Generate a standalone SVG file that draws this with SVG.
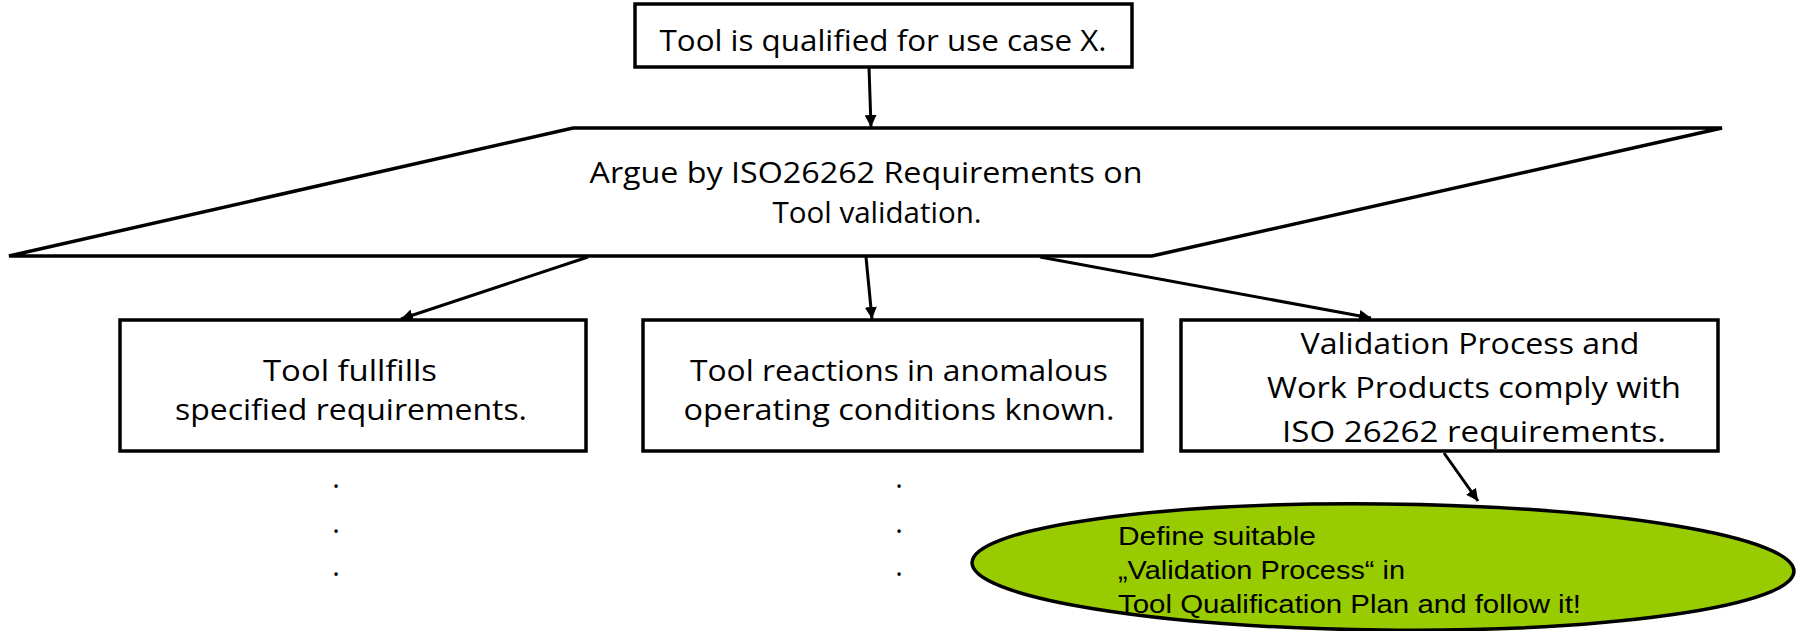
<svg xmlns="http://www.w3.org/2000/svg" width="1796" height="631" viewBox="0 0 1796 631">
  <style>
    .box { fill: #ffffff; stroke: #000000; stroke-width: 3.5; }
    .lbl { font-family: "Open Sans", "Noto Sans", "Liberation Sans", sans-serif; font-size: 30px; fill: #000000; text-anchor: middle; }
    .note { font-family: "Liberation Sans", Arial, sans-serif; font-size: 26px; fill: #000000; }
    .dot { font-family: "Open Sans", "Liberation Sans", sans-serif; font-size: 29px; fill: #000000; text-anchor: middle; }
    .link { fill: none; stroke: #000000; stroke-width: 3; marker-end: url(#arrow); }
  </style>
  <defs>
    <marker id="arrow" markerUnits="userSpaceOnUse" markerWidth="14" markerHeight="12" refX="12" refY="6" orient="auto">
      <path d="M0,0 L12,6 L0,12 z" fill="#000000"/>
    </marker>
  </defs>

  <!-- goal -->
  <g id="goal">
    <rect class="box" x="635" y="4" width="497" height="63"/>
    <text class="lbl" x="883" y="51" textLength="447" lengthAdjust="spacingAndGlyphs">Tool is qualified for use case X.</text>
  </g>

  <!-- strategy -->
  <g id="strategy">
    <polygon class="box" points="573,128 1722,128 1152,256 9,256"/>
    <text class="lbl" x="866" y="183" textLength="553" lengthAdjust="spacingAndGlyphs">Argue by ISO26262 Requirements on</text>
    <text class="lbl" x="877" y="223" textLength="209" lengthAdjust="spacingAndGlyphs">Tool validation.</text>
  </g>

  <!-- sub-goals -->
  <g id="req">
    <rect class="box" x="120" y="320" width="466" height="131"/>
    <text class="lbl" x="350" y="381" textLength="174" lengthAdjust="spacingAndGlyphs">Tool fullfills</text>
    <text class="lbl" x="351" y="420" textLength="352" lengthAdjust="spacingAndGlyphs">specified requirements.</text>
  </g>

  <g id="anomalous">
    <rect class="box" x="643" y="320" width="499" height="131"/>
    <text class="lbl" x="899" y="381" textLength="418" lengthAdjust="spacingAndGlyphs">Tool reactions in anomalous</text>
    <text class="lbl" x="899" y="420" textLength="431" lengthAdjust="spacingAndGlyphs">operating conditions known.</text>
  </g>

  <g id="process">
    <rect class="box" x="1181" y="320" width="537" height="131"/>
    <text class="lbl" x="1470" y="354" textLength="339" lengthAdjust="spacingAndGlyphs">Validation Process and</text>
    <text class="lbl" x="1474" y="398" textLength="414" lengthAdjust="spacingAndGlyphs">Work Products comply with</text>
    <text class="lbl" x="1474" y="442" textLength="384" lengthAdjust="spacingAndGlyphs">ISO 26262 requirements.</text>
  </g>

  <!-- recommendation -->
  <g id="advice">
    <ellipse cx="1383" cy="567" rx="411" ry="63" fill="#99cc00" stroke="#000000" stroke-width="3.5" transform="rotate(0.6 1383 567)"/>
    <text class="note" x="1118" y="545" textLength="198" lengthAdjust="spacingAndGlyphs">Define suitable</text>
    <text class="note" x="1118" y="579" textLength="287" lengthAdjust="spacingAndGlyphs">„Validation Process“ in</text>
    <text class="note" x="1118" y="613" textLength="463" lengthAdjust="spacingAndGlyphs">Tool Qualification Plan and follow it!</text>
  </g>

  <!-- continuation marks -->
  <g id="more-left">
    <text class="dot" x="336" y="488">.</text>
    <text class="dot" x="336" y="533">.</text>
    <text class="dot" x="336" y="576">.</text>
  </g>
  <g id="more-middle">
    <text class="dot" x="899" y="488">.</text>
    <text class="dot" x="899" y="533">.</text>
    <text class="dot" x="899" y="576">.</text>
  </g>

  <!-- connectors -->
  <g id="connectors">
    <line class="link" x1="869" y1="67" x2="871" y2="127"/>
    <line class="link" x1="588" y1="257" x2="401" y2="319"/>
    <line class="link" x1="866" y1="257" x2="872" y2="319"/>
    <line class="link" x1="1040" y1="257" x2="1371" y2="318"/>
    <line class="link" x1="1444" y1="453" x2="1478" y2="501"/>
  </g>
</svg>
